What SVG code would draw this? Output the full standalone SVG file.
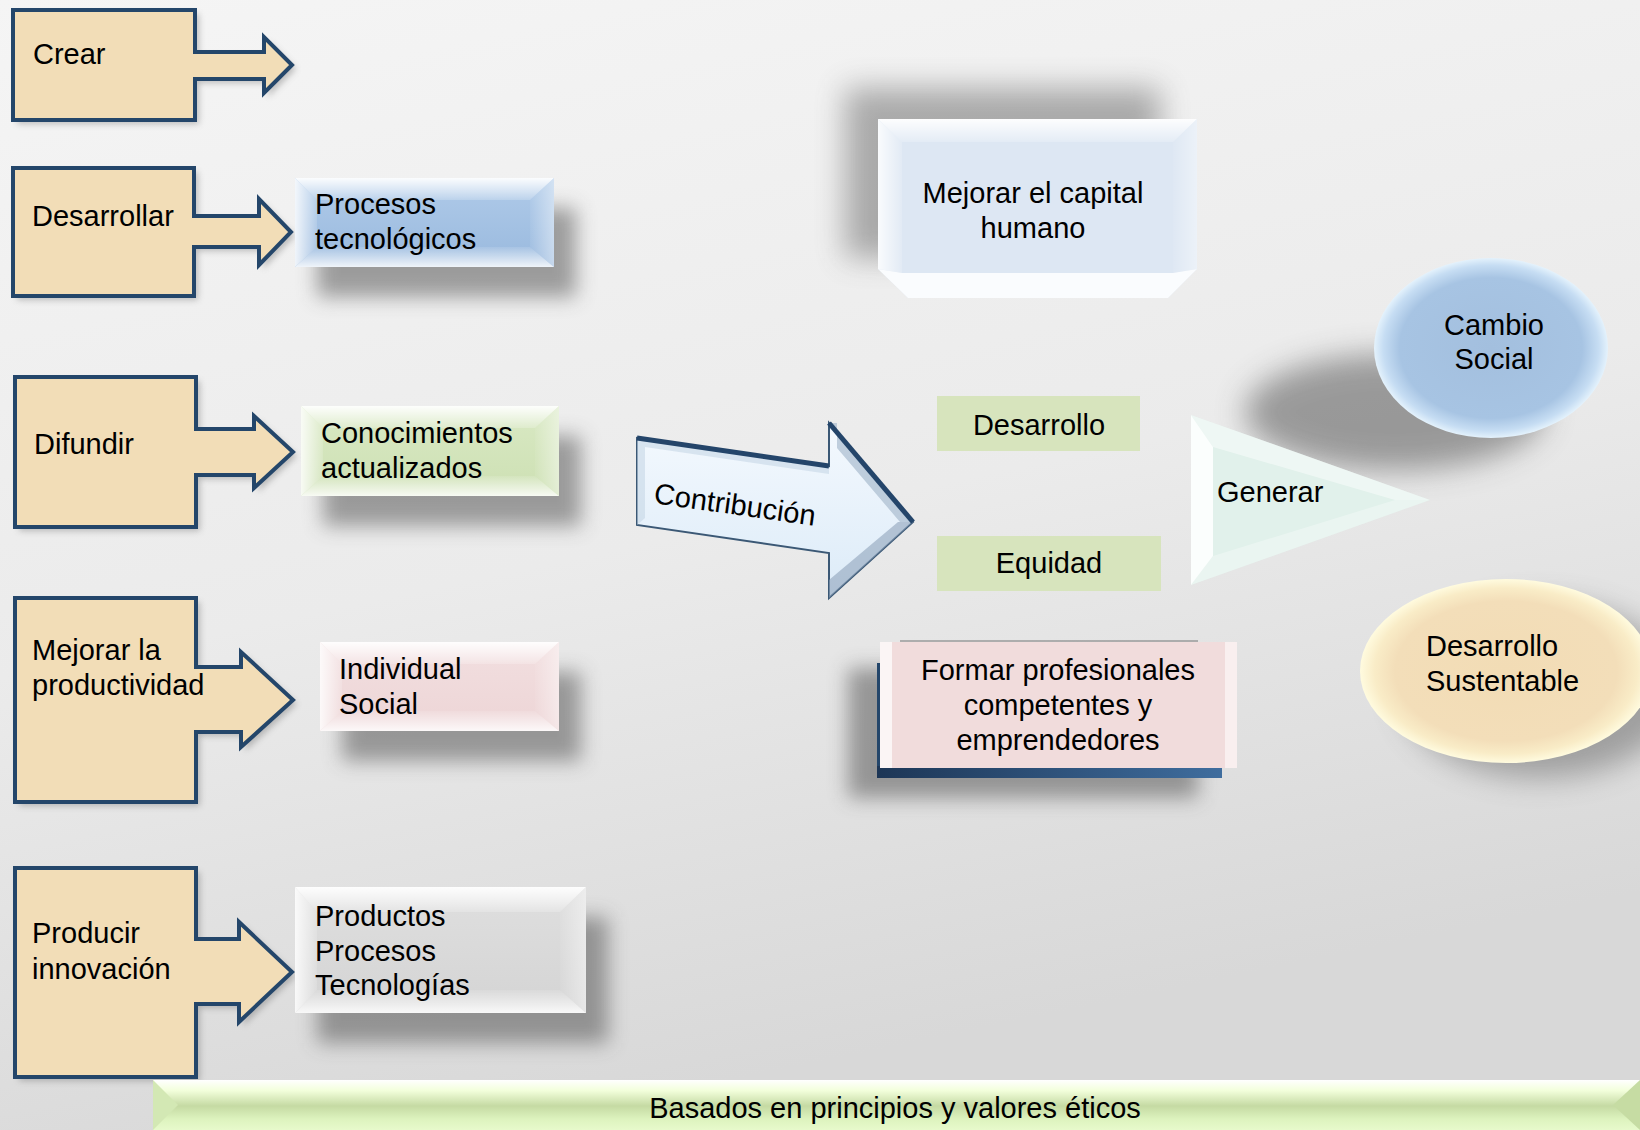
<svg xmlns="http://www.w3.org/2000/svg" width="1640" height="1130" viewBox="0 0 1640 1130">
<defs>
<style>
.t{font-family:"Liberation Sans",Arial,sans-serif;font-size:29px;fill:#000}
.c{text-anchor:middle}
.call{fill:#F2DDB7;stroke:#24466A;stroke-width:4;stroke-linejoin:miter}
.callsh{fill:#6b6b6b;opacity:.4;filter:url(#blur3)}
.sh{fill:#4a4a4a;opacity:.5;filter:url(#blur10)}
.bt{fill:url(#bvT)}
.bl{fill:url(#bvL)}
.bb{fill:url(#bvB)}
.br{fill:url(#bvR)}
</style>
<linearGradient id="bg" x1="0" y1="0" x2="0.3" y2="1">
<stop offset="0" stop-color="#F5F5F5"/>
<stop offset="0.55" stop-color="#EBEBEB"/>
<stop offset="1" stop-color="#D8D8D8"/>
</linearGradient>
<linearGradient id="bvT" x1="0" y1="0" x2="0" y2="1"><stop offset="0" stop-color="#fff" stop-opacity=".95"/><stop offset="1" stop-color="#fff" stop-opacity=".2"/></linearGradient>
<linearGradient id="bvL" x1="0" y1="0" x2="1" y2="0"><stop offset="0" stop-color="#fff" stop-opacity=".85"/><stop offset="1" stop-color="#fff" stop-opacity=".15"/></linearGradient>
<linearGradient id="bvB" x1="0" y1="0" x2="0" y2="1"><stop offset="0" stop-color="#fff" stop-opacity=".1"/><stop offset="1" stop-color="#fff" stop-opacity=".85"/></linearGradient>
<linearGradient id="bvR" x1="0" y1="0" x2="1" y2="0"><stop offset="0" stop-color="#fff" stop-opacity=".05"/><stop offset="1" stop-color="#fff" stop-opacity=".45"/></linearGradient>
<filter id="blur3" x="-20%" y="-20%" width="140%" height="140%"><feGaussianBlur stdDeviation="3"/></filter>
<filter id="blur10" x="-40%" y="-40%" width="180%" height="180%"><feGaussianBlur stdDeviation="10"/></filter>
<filter id="blur14" x="-50%" y="-50%" width="200%" height="200%"><feGaussianBlur stdDeviation="15"/></filter>
<linearGradient id="gBlue" x1="0" y1="0" x2="0" y2="1"><stop offset="0" stop-color="#B0CBE9"/><stop offset="1" stop-color="#99B9DE"/></linearGradient>
<linearGradient id="gGreen" x1="0" y1="0" x2="0" y2="1"><stop offset="0" stop-color="#D9E9C4"/><stop offset="1" stop-color="#CDE0B3"/></linearGradient>
<linearGradient id="gPink" x1="0" y1="0" x2="0" y2="1"><stop offset="0" stop-color="#F2DFE0"/><stop offset="1" stop-color="#EDD5D6"/></linearGradient>
<linearGradient id="gGray" x1="0" y1="0" x2="0" y2="1"><stop offset="0" stop-color="#DFDFDF"/><stop offset="1" stop-color="#D4D4D4"/></linearGradient>
<linearGradient id="gBanner" x1="0" y1="0" x2="0" y2="1">
<stop offset="0" stop-color="#FFFFFF"/>
<stop offset="0.2" stop-color="#F3FFDC"/>
<stop offset="0.5" stop-color="#C5DAA3"/>
<stop offset="0.75" stop-color="#DDF3BE"/>
<stop offset="1" stop-color="#E9FBCE"/>
</linearGradient>
<linearGradient id="gArrow" x1="0" y1="0" x2="0" y2="1">
<stop offset="0" stop-color="#F4F9FE"/>
<stop offset="1" stop-color="#DCEBF8"/>
</linearGradient>
<linearGradient id="gNavy" x1="0" y1="0" x2="1" y2="0">
<stop offset="0" stop-color="#1D3656"/>
<stop offset="1" stop-color="#3F6D9E"/>
</linearGradient>
<radialGradient id="gCambio" cx="0.5" cy="0.5" r="0.5">
<stop offset="0" stop-color="#A3BFDE"/>
<stop offset="0.78" stop-color="#A7C4E3"/>
<stop offset="0.92" stop-color="#C6DDF3"/>
<stop offset="1" stop-color="#E4F2FC"/>
</radialGradient>
<radialGradient id="gSust" cx="0.5" cy="0.5" r="0.5">
<stop offset="0" stop-color="#F2DCB5"/>
<stop offset="0.76" stop-color="#F3DEB9"/>
<stop offset="0.9" stop-color="#F9ECC7"/>
<stop offset="1" stop-color="#FFFBDF"/>
</radialGradient>
</defs>

<rect x="0" y="0" width="1640" height="1130" fill="url(#bg)"/>

<g id="shadows">
<rect class="sh" x="317" y="208" width="259" height="89"/>
<rect class="sh" x="323" y="436" width="258" height="90"/>
<rect class="sh" x="342" y="672" width="239" height="89"/>
<rect class="sh" x="317" y="917" width="291" height="126"/>
<rect x="845" y="88" width="315" height="170" fill="#4a4a4a" opacity=".42" filter="url(#blur14)"/>
<rect class="sh" x="848" y="668" width="350" height="130"/>
<ellipse cx="1395" cy="412" rx="150" ry="58" fill="#4a4a4a" opacity=".5" filter="url(#blur14)"/>
<ellipse cx="1540" cy="690" rx="140" ry="88" fill="#4a4a4a" opacity=".42" filter="url(#blur14)"/>
</g>

<g id="crear">
<path class="callsh" d="M17,14 H199 V56 H268 V41 L296,69 L268,97 V83 H199 V124 H17 Z"/>
<path class="call" d="M13,10 H195 V52 H264 V37 L292,65 L264,93 V79 H195 V120 H13 Z"/>
<text class="t" x="33" y="64">Crear</text>
</g>

<g id="desarrollar">
<path class="callsh" d="M17,172 H198 V220 H263 V203 L295,236 L263,269 V251 H198 V300 H17 Z"/>
<path class="call" d="M13,168 H194 V216 H259 V199 L291,232 L259,265 V247 H194 V296 H13 Z"/>
<text class="t" x="32" y="226">Desarrollar</text>
</g>

<g id="difundir">
<path class="callsh" d="M19,381 H200 V433 H258 V420 L297,456 L258,492 V479 H200 V531 H19 Z"/>
<path class="call" d="M15,377 H196 V429 H254 V416 L293,452 L254,488 V475 H196 V527 H15 Z"/>
<text class="t" x="34" y="454">Difundir</text>
</g>

<g id="mejorar-productividad">
<path class="callsh" d="M19,602 H200 V671 H245 V656 L297,704 L245,751 V736 H200 V806 H19 Z"/>
<path class="call" d="M15,598 H196 V667 H241 V652 L293,700 L241,747 V732 H196 V802 H15 Z"/>
<text class="t" x="32" y="660">Mejorar la</text>
<text class="t" x="32" y="695">productividad</text>
</g>

<g id="producir">
<path class="callsh" d="M19,872 H200 V943 H243 V926 L296,976 L243,1026 V1008 H200 V1081 H19 Z"/>
<path class="call" d="M15,868 H196 V939 H239 V922 L292,972 L239,1022 V1004 H196 V1077 H15 Z"/>
<text class="t" x="32" y="943">Producir</text>
<text class="t" x="32" y="979">innovación</text>
</g>

<g id="procesos-tecnologicos">
<rect x="295" y="178" width="259" height="89" fill="url(#gBlue)"/>
<polygon class="bt" points="295,178 554,178 530,200 317,200"/>
<polygon class="bl" points="295,178 317,200 317,247 295,267"/>
<polygon class="bb" points="295,267 317,247 530,247 554,267"/>
<polygon class="br" points="554,178 554,267 530,247 530,200"/>
<text class="t" x="315" y="214">Procesos</text>
<text class="t" x="315" y="249">tecnológicos</text>
</g>

<g id="conocimientos-actualizados">
<rect x="301" y="406" width="258" height="90" fill="url(#gGreen)"/>
<polygon class="bt" points="301,406 559,406 535,428 323,428"/>
<polygon class="bl" points="301,406 323,428 323,476 301,496"/>
<polygon class="bb" points="301,496 323,476 535,476 559,496"/>
<polygon class="br" points="559,406 559,496 535,476 535,428"/>
<text class="t" x="321" y="443">Conocimientos</text>
<text class="t" x="321" y="478">actualizados</text>
</g>

<g id="individual-social">
<rect x="320" y="642" width="239" height="89" fill="url(#gPink)"/>
<polygon class="bt" points="320,642 559,642 535,664 342,664"/>
<polygon class="bl" points="320,642 342,664 342,711 320,731"/>
<polygon class="bb" points="320,731 342,711 535,711 559,731"/>
<polygon class="br" points="559,642 559,731 535,711 535,664"/>
<text class="t" x="339" y="679">Individual</text>
<text class="t" x="339" y="714">Social</text>
</g>

<g id="productos-procesos-tecnologias">
<rect x="295" y="887" width="291" height="126" fill="url(#gGray)"/>
<polygon class="bt" points="295,887 586,887 560,912 317,912"/>
<polygon class="bl" points="295,887 317,912 317,990 295,1013"/>
<polygon class="bb" points="295,1013 317,990 560,990 586,1013"/>
<polygon class="br" points="586,887 586,1013 560,990 560,912"/>
<text class="t" x="315" y="926">Productos</text>
<text class="t" x="315" y="961">Procesos</text>
<text class="t" x="315" y="995">Tecnologías</text>
</g>

<g id="mejorar-capital-humano">
<polygon points="878,119 1197,119 1197,269 1168,298 908,298 878,269" fill="#DDE7F3"/>
<polygon class="bt" points="878,119 1197,119 1173,142 902,142"/>
<polygon class="bl" points="878,119 902,142 902,273 878,269"/>
<polygon class="br" points="1197,119 1197,269 1173,273 1173,142"/>
<polygon points="878,269 902,273 1173,273 1197,269 1168,298 908,298" fill="#fff" opacity=".85"/>
<text class="t c" x="1033" y="203">Mejorar el capital</text>
<text class="t c" x="1033" y="238">humano</text>
</g>

<g id="connectors">
<g id="contribucion">
<polygon points="637,438 829,466 829,423 913,522 829,598 829,553 637,525" fill="url(#gArrow)" stroke="#3B5875" stroke-width="2" stroke-linejoin="miter"/>
<polygon points="637,438 829,466 829,474 645,447 645,518 637,525" fill="#C7D7E6" opacity=".6"/>
<polygon points="829,423 913,522 900,522 837,448 837,423" fill="#A9BCCF" opacity=".7"/>
<polygon points="913,522 829,598 829,580 898,522" fill="#8FA4BA" opacity=".6"/>
<polyline points="637,438 829,466" fill="none" stroke="#24456A" stroke-width="5"/>
<polyline points="829,423 913,522" fill="none" stroke="#24456A" stroke-width="5"/>
<text class="t" x="653" y="503" transform="rotate(8 653 503)">Contribución</text>
</g>
</g>

<g id="desarrollo">
<rect x="937" y="396" width="203" height="55" fill="#D7E4BD"/>
<text class="t c" x="1039" y="435">Desarrollo</text>
</g>

<g id="equidad">
<rect x="937" y="536" width="224" height="55" fill="#D7E4BD"/>
<text class="t c" x="1049" y="573">Equidad</text>
</g>

<g id="formar-profesionales">
<line x1="900" y1="641" x2="1198" y2="641" stroke="#9A9A9A" stroke-width="1.5"/>
<rect x="877" y="663" width="8" height="115" fill="#24466A"/>
<rect x="877" y="766" width="345" height="12" fill="url(#gNavy)"/>
<rect x="880" y="642" width="357" height="126" fill="#F1DCDC"/>
<rect x="880" y="642" width="12" height="126" fill="#fff" opacity=".7"/>
<rect x="1225" y="642" width="12" height="126" fill="#fff" opacity=".55"/>
<text class="t c" x="1058" y="680">Formar profesionales</text>
<text class="t c" x="1058" y="715">competentes y</text>
<text class="t c" x="1058" y="750">emprendedores</text>
</g>

<g id="generar">
<polygon points="1191,415 1430,500 1191,585" fill="#E1F1EB"/>
<polygon points="1191,415 1213,447 1213,556 1191,585" fill="#FBFEFD"/>
<polygon points="1191,415 1430,500 1395,500 1213,447" fill="#fff" opacity=".45"/>
<polygon points="1191,585 1213,556 1395,500 1430,500" fill="#fff" opacity=".3"/>
<text class="t" x="1217" y="502">Generar</text>
</g>

<g id="cambio-social">
<ellipse cx="1491" cy="348" rx="117" ry="90" fill="url(#gCambio)"/>
<text class="t c" x="1494" y="335">Cambio</text>
<text class="t c" x="1494" y="369">Social</text>
</g>

<g id="desarrollo-sustentable">
<ellipse cx="1506" cy="671" rx="146" ry="92" fill="url(#gSust)"/>
<text class="t" x="1426" y="656">Desarrollo</text>
<text class="t" x="1426" y="691">Sustentable</text>
</g>

<g id="banner">
<rect x="153" y="1080" width="1490" height="52" fill="url(#gBanner)"/>
<polygon points="153,1080 178,1105 153,1130" fill="#D3E8B4"/>
<polygon points="1640,1080 1613,1105 1640,1130" fill="#C6DCA3"/>
<text class="t c" x="895" y="1118">Basados en principios y valores éticos</text>
</g>
</svg>
